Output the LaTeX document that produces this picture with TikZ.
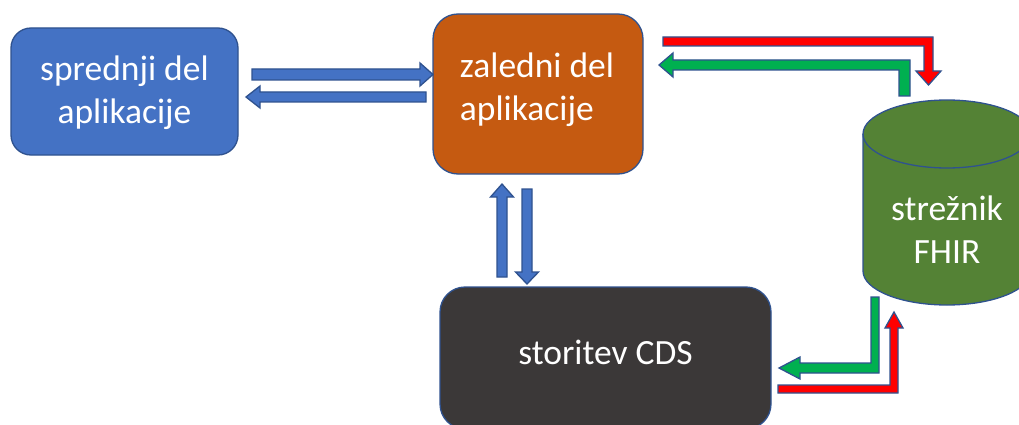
\documentclass[tikz,border=0pt]{standalone}
\usepackage{fontspec}
\setmainfont{Carlito}
\definecolor{frontblue}{HTML}{4472C4}
\definecolor{edgeblue}{HTML}{2F528F}
\definecolor{backorange}{HTML}{C55A11}
\definecolor{cdsdark}{HTML}{3B3838}
\definecolor{fhirgreen}{HTML}{548235}
\definecolor{flowred}{HTML}{FF0000}
\definecolor{flowgreen}{HTML}{00B050}
\begin{document}
\begin{tikzpicture}[x=1pt,y=-1pt,
  boxstyle/.style={draw=edgeblue, line width=1.3pt, text=white, inner sep=0pt,
    font=\fontsize{35.5}{43}\selectfont, align=center},
  blockarrow/.style={draw=edgeblue, line width=1.3pt, line join=miter},
  labeltext/.style={text=white, font=\fontsize{35.5}{43}\selectfont, align=center, inner sep=0pt}
]
\useasboundingbox (0,0) rectangle (1019,425);
\clip (0,0) rectangle (1019,425);

% nodes
\node[boxstyle, fill=frontblue, rounded corners=20pt, minimum width=227pt, minimum height=127pt]
  (front) at (124.5,91.5) {};
\node[labeltext] (frontlabel) at (124.5,93) {sprednji del\\aplikacije};
\node[boxstyle, fill=backorange, rounded corners=25pt, minimum width=210pt, minimum height=160pt]
  (back) at (538,94) {};
\node[labeltext, align=left] (backlabel) at (537,90) {zaledni del\\aplikacije};
\node[boxstyle, fill=cdsdark, rounded corners=25pt, minimum width=331pt, minimum height=142pt]
  (cds) at (605.5,358) {};
\node[labeltext] (cdslabel) at (605.5,352) {storitev CDS};

% cylinder (FHIR server)
\fill[fhirgreen] (863,134) -- (863,271) arc (180:0:84 and 34) -- (1031,134) arc (0:-180:84 and 34) -- cycle;
\draw[edgeblue, line width=1.3pt] (863,134) -- (863,271) arc (180:0:84 and 34) -- (1031,134);
\draw[edgeblue, line width=1.3pt] (947,134) ellipse (84 and 34);
\node[labeltext] (fhir) at (947,230) {strežnik\\FHIR};

% blue arrows front <-> back
\filldraw[blockarrow, fill=frontblue]
  (252,69) -- (420,69) -- (420,63) -- (433,74.5) -- (420,86) -- (420,80) -- (252,80) -- cycle;
\filldraw[blockarrow, fill=frontblue]
  (426,92) -- (260,92) -- (260,86) -- (246,97) -- (260,108) -- (260,102) -- (426,102) -- cycle;

% blue arrows back <-> cds
\filldraw[blockarrow, fill=frontblue]
  (497,277) -- (497,197) -- (490.5,197) -- (502,184) -- (513.5,197) -- (507,197) -- (507,277) -- cycle;
\filldraw[blockarrow, fill=frontblue]
  (522,189) -- (522,272) -- (515.5,272) -- (527,284) -- (538.5,272) -- (532,272) -- (532,189) -- cycle;

% red / green bent arrows, back <-> fhir
\filldraw[blockarrow, fill=flowred]
  (663,37) -- (933,37) -- (933,71) -- (941,71) -- (928.5,85) -- (916,71) -- (924,71) -- (924,46) -- (663,46) -- cycle;
\filldraw[blockarrow, fill=flowgreen]
  (910,96) -- (910,60) -- (673,60) -- (673,53) -- (659,65) -- (673,77) -- (673,70) -- (899,70) -- (899,96) -- cycle;

% red / green bent arrows, fhir <-> cds
\filldraw[blockarrow, fill=flowgreen]
  (871,297) -- (871,363) -- (800,363) -- (800,357) -- (779,368) -- (800,379) -- (800,373) -- (879,373) -- (879,297) -- cycle;
\filldraw[blockarrow, fill=flowred]
  (778,385) -- (890,385) -- (890,328) -- (885,328) -- (894,312) -- (903,328) -- (898,328) -- (898,393) -- (778,393) -- cycle;
\end{tikzpicture}
\end{document}
